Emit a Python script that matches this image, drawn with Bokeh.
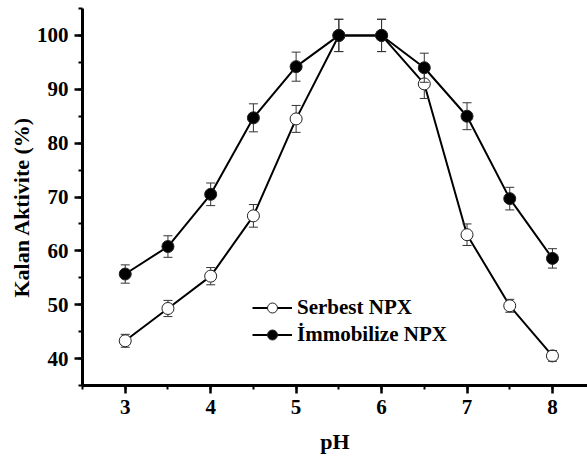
from bokeh.plotting import figure
from bokeh.models import Legend, LegendItem, SingleIntervalTicker, Range1d, Title
from bokeh.embed import file_html
from bokeh.resources import INLINE

ph = [3, 3.5, 4, 4.5, 5, 5.5, 6, 6.5, 7, 7.5, 8]
serbest = [43.3, 49.3, 55.3, 66.5, 84.5, 100, 100, 91.0, 63.0, 49.8, 40.5]
serbest_err = [1.2, 1.5, 1.6, 2.1, 2.5, 3.0, 3.0, 2.7, 2.0, 1.2, 1.0]
immob = [55.7, 60.8, 70.5, 84.7, 94.2, 100, 100, 94.0, 85.0, 69.7, 58.6]
immob_err = [1.7, 2.0, 2.1, 2.6, 2.7, 3.0, 3.0, 2.7, 2.5, 2.1, 1.8]
labels = ["Serbest NPX", "İmmobilize NPX"]
x_title = "pH"
y_title = "Kalan Aktivite (%)"

FONT = "Liberation Serif"

p = figure(width=587, height=457, output_backend="svg", toolbar_location=None,
           x_range=Range1d(2.5, 8.41), y_range=Range1d(35, 105),
           min_border_left=82, min_border_right=0, min_border_top=8, min_border_bottom=72)
p.outline_line_color = None
p.xgrid.visible = False
p.ygrid.visible = False
p.background_fill_color = "white"

p.xaxis.ticker = SingleIntervalTicker(interval=1, num_minor_ticks=2)
p.yaxis.ticker = SingleIntervalTicker(interval=10, num_minor_ticks=2)
for ax in (p.xaxis, p.yaxis):
    ax.axis_line_width = 3
    ax.axis_line_color = "black"
    ax.major_tick_line_width = 2.5
    ax.minor_tick_line_width = 2
    ax.major_tick_out = 8
    ax.major_tick_in = 0
    ax.minor_tick_out = 4
    ax.minor_tick_in = 0
    ax.major_label_text_font = FONT
    ax.major_label_text_font_style = "bold"
    ax.major_label_text_font_size = "21px"
    ax.major_label_text_color = "black"
    ax.axis_label_text_font = FONT
    ax.axis_label_text_font_style = "bold"
    ax.axis_label_text_font_size = "22px"
    ax.axis_label_text_color = "black"
p.xaxis.axis_label = x_title
p.xaxis.major_label_standoff = 6
p.yaxis.major_label_standoff = 6
p.xaxis.axis_label_standoff = 12

# y-axis title, shifted slightly below the frame centre as in the original
p.add_layout(Title(text=y_title, align="left", offset=88, standoff=0,
                   text_font=FONT, text_font_style="bold", text_font_size="22px",
                   text_color="black"), "left")

items = []
for vals, errs, fill, lab in ((serbest, serbest_err, "white", labels[0]),
                              (immob, immob_err, "black", labels[1])):
    up = [v + e for v, e in zip(vals, errs)]
    lo = [v - e for v, e in zip(vals, errs)]
    p.segment(ph, lo, ph, up, line_color="#333333", line_width=1)
    ln = p.line(ph, vals, line_color="black", line_width=2)
    mk = p.scatter(ph, vals, marker="circle", size=12, fill_color=fill,
                   line_color="#222222", line_width=1)
    p.scatter(ph, up, marker="dash", size=9, line_color="#333333", line_width=1)
    p.scatter(ph, lo, marker="dash", size=9, line_color="#333333", line_width=1)
    items.append(LegendItem(label=lab, renderers=[ln, mk]))

legend = Legend(items=items, location=(170, 38), border_line_color=None,
                background_fill_alpha=0, padding=0, margin=0, spacing=2,
                glyph_width=40, glyph_height=25, label_height=25, label_standoff=5,
                label_text_font=FONT, label_text_font_style="bold",
                label_text_font_size="21px", label_text_color="black")
p.add_layout(legend, "center")

open("out.html", "w").write(file_html(p, INLINE))
